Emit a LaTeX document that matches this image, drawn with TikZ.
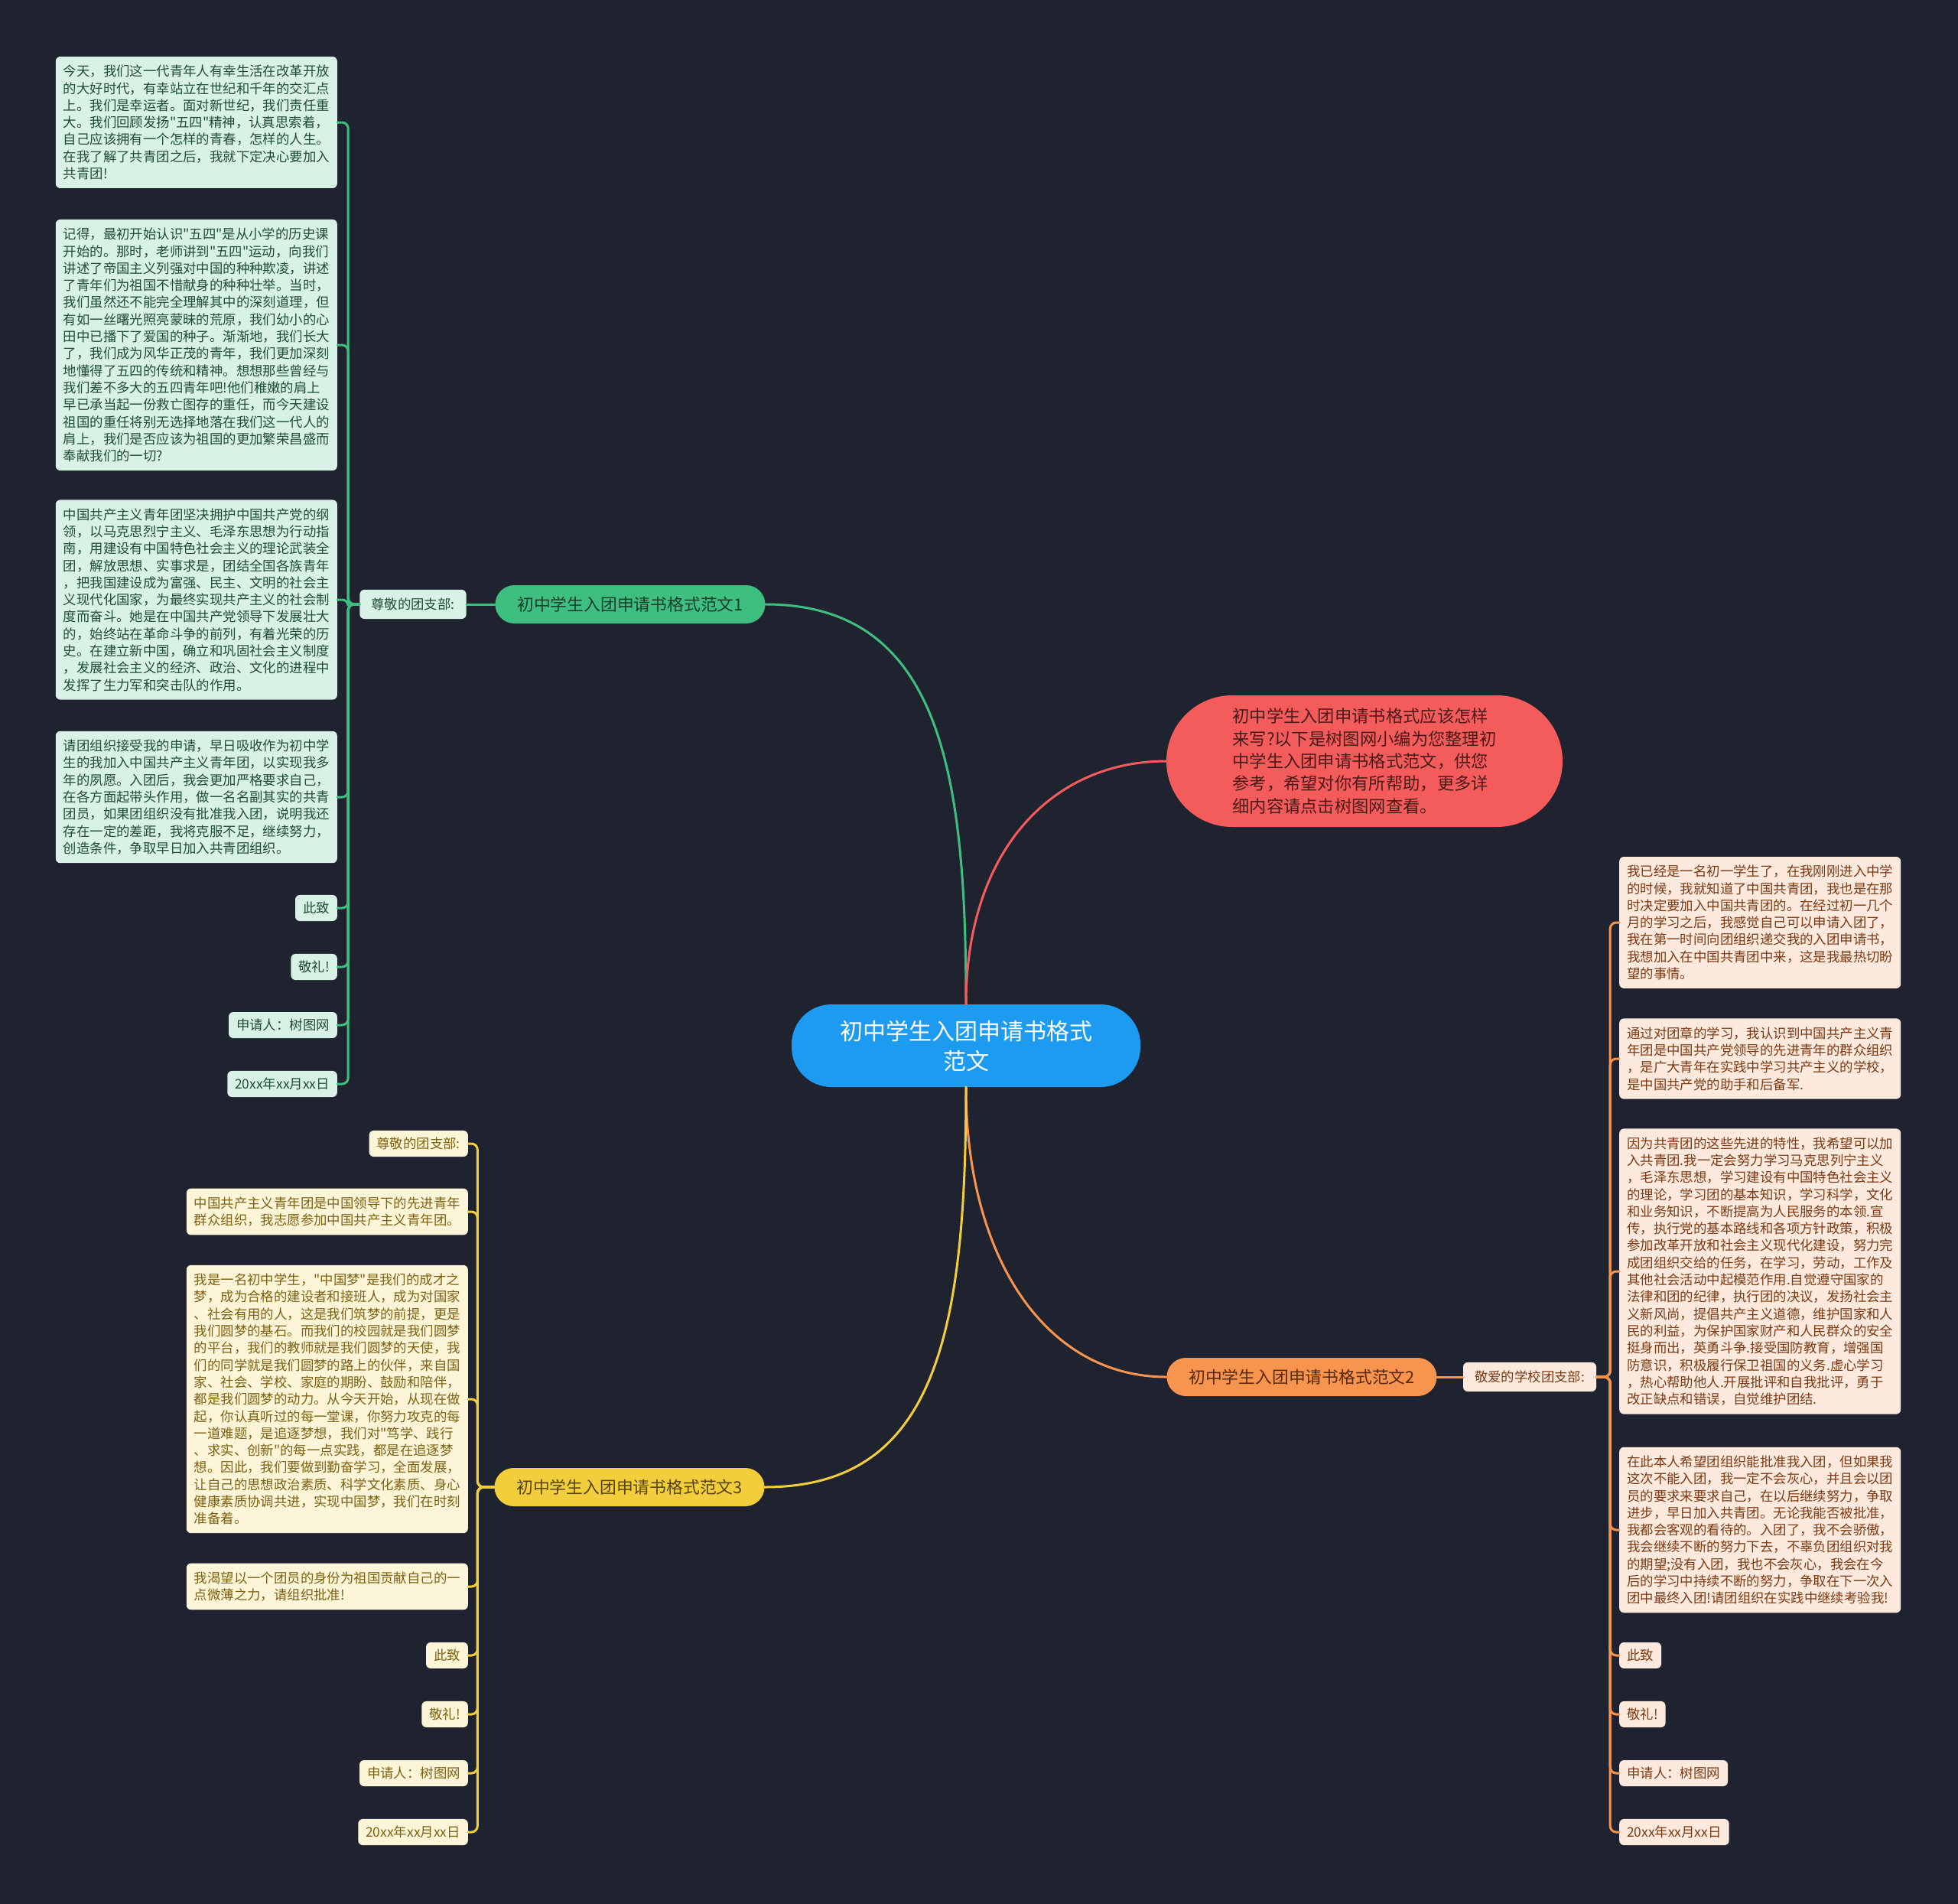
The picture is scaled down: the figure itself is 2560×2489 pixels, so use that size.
\documentclass[tikz,border=0pt]{standalone}
\usepackage{fontspec}
\newfontfamily\cjk{Noto Sans CJK SC}
\usetikzlibrary{positioning}
\usepackage{xcolor}
\definecolor{bgdark}{HTML}{1F2330}
\definecolor{gfill}{HTML}{D9F2E6}\definecolor{gtext}{HTML}{1E4D38}\definecolor{gline}{HTML}{3FBF7F}
\definecolor{ofill}{HTML}{FDE9DD}\definecolor{otext}{HTML}{7B3A12}\definecolor{oline}{HTML}{F7944D}
\definecolor{yfill}{HTML}{FDF5D8}\definecolor{ytext}{HTML}{7D6112}\definecolor{yline}{HTML}{F2CD3C}
\definecolor{rfill}{HTML}{F45C5C}\definecolor{rtext}{HTML}{4A1A1A}
\definecolor{cfill}{HTML}{1D9BF0}
\newcommand\leafsize{\fontsize{17.4}{22.3}\selectfont}

\begin{document}
\begin{tikzpicture}[x=1pt, y=-1pt,
    leaf/.style={rounded corners=6pt, inner xsep=10pt, inner ysep=11pt, align=left, font=\cjk\leafsize},
    tag/.style={rounded corners=6pt, inner xsep=10pt, inner ysep=9pt, font=\cjk\leafsize},
    lbl/.style={tag, inner xsep=15pt, inner ysep=11pt},
    branch/.style={rounded corners=25pt, minimum width=353pt, minimum height=50pt, font=\cjk\fontsize{21.8}{26}\selectfont},
    link/.style={line width=3pt, line cap=round}]
  \fill[bgdark] (0,0) rectangle (2560,2489);
  \useasboundingbox (0,0) rectangle (2560,2489);

  % centre and first level
  \node[fill=cfill, text=white, rounded corners=52pt, minimum width=456pt, minimum height=108pt,
        align=center, font=\cjk\fontsize{30}{39}\selectfont] (c) at (1263,1367) {初中学生入团申请书格式\\范文};
  \node[fill=rfill, text=rtext, rounded corners=86pt, minimum width=518pt, minimum height=172pt,
        align=left, font=\cjk\fontsize{22.3}{29.4}\selectfont] (intro) at (1784,995)
    {初中学生入团申请书格式应该怎样\\来写?以下是树图网小编为您整理初\\中学生入团申请书格式范文，供您\\参考，希望对你有所帮助，更多详\\细内容请点击树图网查看。};
  \node[branch, fill=gline, text=gtext!80!black] (b1) at (824,790) {初中学生入团申请书格式范文1};
  \node[branch, fill=oline, text=otext!70!black] (b2) at (1702,1800) {初中学生入团申请书格式范文2};
  \node[branch, fill=yline, text=ytext!70!black] (b3) at (823,1944) {初中学生入团申请书格式范文3};

  % branch 1
  \node[lbl, fill=gfill, text=gtext] (p1) at (540,790) {尊敬的团支部:};
  \node[leaf, fill=gfill, text=gtext, anchor=east] (g1) at (441,160)
    {今天，我们这一代青年人有幸生活在改革开放\\的大好时代，有幸站立在世纪和千年的交汇点\\上。我们是幸运者。面对新世纪，我们责任重\\大。我们回顾发扬"五四"精神，认真思索着，\\自己应该拥有一个怎样的青春，怎样的人生。\\在我了解了共青团之后，我就下定决心要加入\\共青团!};
  \node[leaf, fill=gfill, text=gtext, anchor=east] (g2) at (441,451)
    {记得，最初开始认识"五四"是从小学的历史课\\开始的。那时，老师讲到"五四"运动，向我们\\讲述了帝国主义列强对中国的种种欺凌，讲述\\了青年们为祖国不惜献身的种种壮举。当时，\\我们虽然还不能完全理解其中的深刻道理，但\\有如一丝曙光照亮蒙昧的荒原，我们幼小的心\\田中已播下了爱国的种子。渐渐地，我们长大\\了，我们成为风华正茂的青年，我们更加深刻\\地懂得了五四的传统和精神。想想那些曾经与\\我们差不多大的五四青年吧!他们稚嫩的肩上\\早已承当起一份救亡图存的重任，而今天建设\\祖国的重任将别无选择地落在我们这一代人的\\肩上，我们是否应该为祖国的更加繁荣昌盛而\\奉献我们的一切?};
  \node[leaf, fill=gfill, text=gtext, anchor=east] (g3) at (441,784)
    {中国共产主义青年团坚决拥护中国共产党的纲\\领，以马克思烈宁主义、毛泽东思想为行动指\\南，用建设有中国特色社会主义的理论武装全\\团，解放思想、实事求是，团结全国各族青年\\，把我国建设成为富强、民主、文明的社会主\\义现代化国家，为最终实现共产主义的社会制\\度而奋斗。她是在中国共产党领导下发展壮大\\的，始终站在革命斗争的前列，有着光荣的历\\史。在建立新中国，确立和巩固社会主义制度\\，发展社会主义的经济、政治、文化的进程中\\发挥了生力军和突击队的作用。};
  \node[leaf, fill=gfill, text=gtext, anchor=east] (g4) at (441,1042)
    {请团组织接受我的申请，早日吸收作为初中学\\生的我加入中国共产主义青年团，以实现我多\\年的夙愿。入团后，我会更加严格要求自己，\\在各方面起带头作用，做一名名副其实的共青\\团员，如果团组织没有批准我入团，说明我还\\存在一定的差距，我将克服不足，继续努力，\\创造条件，争取早日加入共青团组织。};
  \node[tag, fill=gfill, text=gtext, anchor=east] (g5) at (441,1187) {此致};
  \node[tag, fill=gfill, text=gtext, anchor=east] (g6) at (441,1264) {敬礼!};
  \node[tag, fill=gfill, text=gtext, anchor=east] (g7) at (441,1340) {申请人：树图网};
  \node[tag, fill=gfill, text=gtext, anchor=east] (g8) at (441,1417) {20xx年xx月xx日};

  % branch 2
  \node[lbl, fill=ofill, text=otext] (p2) at (2000,1800) {敬爱的学校团支部:};
  \node[leaf, fill=ofill, text=otext, anchor=west] (o1) at (2117,1206)
    {我已经是一名初一学生了，在我刚刚进入中学\\的时候，我就知道了中国共青团，我也是在那\\时决定要加入中国共青团的。在经过初一几个\\月的学习之后，我感觉自己可以申请入团了，\\我在第一时间向团组织递交我的入团申请书，\\我想加入在中国共青团中来，这是我最热切盼\\望的事情。};
  \node[leaf, fill=ofill, text=otext, anchor=west] (o2) at (2117,1384)
    {通过对团章的学习，我认识到中国共产主义青\\年团是中国共产党领导的先进青年的群众组织\\，是广大青年在实践中学习共产主义的学校，\\是中国共产党的助手和后备军.};
  \node[leaf, fill=ofill, text=otext, anchor=west] (o3) at (2117,1662)
    {因为共青团的这些先进的特性，我希望可以加\\入共青团.我一定会努力学习马克思列宁主义\\，毛泽东思想，学习建设有中国特色社会主义\\的理论，学习团的基本知识，学习科学，文化\\和业务知识，不断提高为人民服务的本领.宣\\传，执行党的基本路线和各项方针政策，积极\\参加改革开放和社会主义现代化建设，努力完\\成团组织交给的任务，在学习，劳动，工作及\\其他社会活动中起模范作用.自觉遵守国家的\\法律和团的纪律，执行团的决议，发扬社会主\\义新风尚，提倡共产主义道德，维护国家和人\\民的利益，为保护国家财产和人民群众的安全\\挺身而出，英勇斗争.接受国防教育，增强国\\防意识，积极履行保卫祖国的义务.虚心学习\\，热心帮助他人.开展批评和自我批评，勇于\\改正缺点和错误，自觉维护团结.};
  \node[leaf, fill=ofill, text=otext, anchor=west] (o4) at (2117,2000)
    {在此本人希望团组织能批准我入团，但如果我\\这次不能入团，我一定不会灰心，并且会以团\\员的要求来要求自己，在以后继续努力，争取\\进步，早日加入共青团。无论我能否被批准，\\我都会客观的看待的。入团了，我不会骄傲，\\我会继续不断的努力下去，不辜负团组织对我\\的期望;没有入团，我也不会灰心，我会在今\\后的学习中持续不断的努力，争取在下一次入\\团中最终入团!请团组织在实践中继续考验我!};
  \node[tag, fill=ofill, text=otext, anchor=west] (o5) at (2117,2164) {此致};
  \node[tag, fill=ofill, text=otext, anchor=west] (o6) at (2117,2241) {敬礼!};
  \node[tag, fill=ofill, text=otext, anchor=west] (o7) at (2117,2318) {申请人：树图网};
  \node[tag, fill=ofill, text=otext, anchor=west] (o8) at (2117,2395) {20xx年xx月xx日};

  % branch 3
  \node[tag, fill=yfill, text=ytext, anchor=east] (y1) at (612,1495) {尊敬的团支部:};
  \node[leaf, fill=yfill, text=ytext, anchor=east] (y2) at (612,1584)
    {中国共产主义青年团是中国领导下的先进青年\\群众组织，我志愿参加中国共产主义青年团。};
  \node[leaf, fill=yfill, text=ytext, anchor=east] (y3) at (612,1829)
    {我是一名初中学生，"中国梦"是我们的成才之\\梦，成为合格的建设者和接班人，成为对国家\\、社会有用的人，这是我们筑梦的前提，更是\\我们圆梦的基石。而我们的校园就是我们圆梦\\的平台，我们的教师就是我们圆梦的天使，我\\们的同学就是我们圆梦的路上的伙伴，来自国\\家、社会、学校、家庭的期盼、鼓励和陪伴，\\都是我们圆梦的动力。从今天开始，从现在做\\起，你认真听过的每一堂课，你努力攻克的每\\一道难题，是追逐梦想，我们对"笃学、践行\\、求实、创新"的每一点实践，都是在追逐梦\\想。因此，我们要做到勤奋学习，全面发展，\\让自己的思想政治素质、科学文化素质、身心\\健康素质协调共进，实现中国梦，我们在时刻\\准备着。};
  \node[leaf, fill=yfill, text=ytext, anchor=east] (y4) at (612,2074)
    {我渴望以一个团员的身份为祖国贡献自己的一\\点微薄之力，请组织批准!};
  \node[tag, fill=yfill, text=ytext, anchor=east] (y5) at (612,2164) {此致};
  \node[tag, fill=yfill, text=ytext, anchor=east] (y6) at (612,2241) {敬礼!};
  \node[tag, fill=yfill, text=ytext, anchor=east] (y7) at (612,2318) {申请人：树图网};
  \node[tag, fill=yfill, text=ytext, anchor=east] (y8) at (612,2395) {20xx年xx月xx日};

  % connectors
  \draw[link, gline] (c.north) .. controls +(0,-300) and +(230,0) .. (b1.east);
  \draw[link, rfill] (c.north) .. controls +(0,-200) and +(-150,0) .. (intro.west);
  \draw[link, oline] (c.south) .. controls +(0,220) and +(-160,0) .. (b2.west);
  \draw[link, yline] (c.south) .. controls +(0,330) and +(220,0) .. (b3.east);
  \draw[link, gline] (b1.west) -- (p1.east);
  \draw[link, oline] (b2.east) -- (p2.west);
  \foreach \n in {g1,g2,g3,g4,g5,g6,g7,g8}
    \draw[link, gline, rounded corners=8pt] (p1.west) -- ++(-15,0) |- (\n.east);
  \foreach \n in {o1,o2,o3,o4,o5,o6,o7,o8}
    \draw[link, oline, rounded corners=8pt] (p2.east) -- ++(18,0) |- (\n.west);
  \foreach \n in {y1,y2,y3,y4,y5,y6,y7,y8}
    \draw[link, yline, rounded corners=8pt] (b3.west) -- ++(-22,0) |- (\n.east);
\end{tikzpicture}
\end{document}
